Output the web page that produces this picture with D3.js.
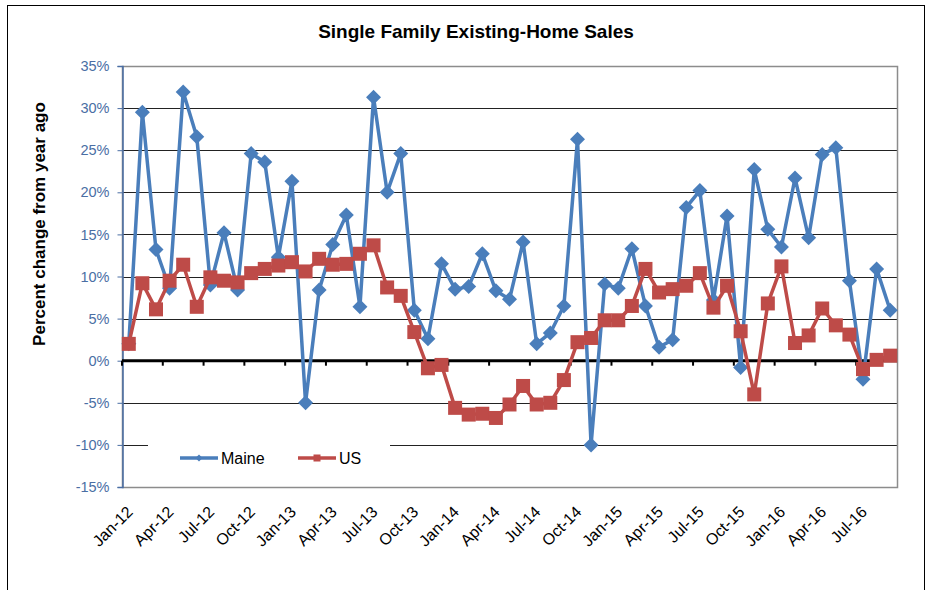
<!DOCTYPE html>
<html>
<head>
<meta charset="utf-8">
<script src="https://cdn.jsdelivr.net/npm/d3@7"></script>
<style>
  body { margin: 0; background: #fff; }
  svg { font-family: "Liberation Sans", Arial, sans-serif; }
</style>
</head>
<body>
<svg id="chart" width="931" height="590"></svg>
<script>
// monthly data, Jan-12 .. Sep-16
var months = ["Jan-12","Feb-12","Mar-12","Apr-12","May-12","Jun-12","Jul-12","Aug-12","Sep-12","Oct-12","Nov-12","Dec-12",
  "Jan-13","Feb-13","Mar-13","Apr-13","May-13","Jun-13","Jul-13","Aug-13","Sep-13","Oct-13","Nov-13","Dec-13",
  "Jan-14","Feb-14","Mar-14","Apr-14","May-14","Jun-14","Jul-14","Aug-14","Sep-14","Oct-14","Nov-14","Dec-14",
  "Jan-15","Feb-15","Mar-15","Apr-15","May-15","Jun-15","Jul-15","Aug-15","Sep-15","Oct-15","Nov-15","Dec-15",
  "Jan-16","Feb-16","Mar-16","Apr-16","May-16","Jun-16","Jul-16","Aug-16","Sep-16"];

var maine = [2.0, 29.5, 13.2, 8.6, 31.9, 26.6, 9.0, 15.2, 8.4, 24.6, 23.6, 12.3,
  21.3, -5.0, 8.4, 13.8, 17.3, 6.4, 31.3, 20.0, 24.6, 6.0, 2.6, 11.5,
  8.5, 8.8, 12.7, 8.3, 7.3, 14.1, 2.0, 3.3, 6.5, 26.3, -10.0, 9.1,
  8.6, 13.3, 6.5, 1.6, 2.5, 18.2, 20.2, 7.2, 17.2, -0.8, 22.7, 15.6,
  13.5, 21.7, 14.6, 24.5, 25.3, 9.5, -2.2, 10.9, 6.0];

var us = [2.0, 9.2, 6.1, 9.5, 11.4, 6.4, 9.9, 9.5, 9.3, 10.4, 10.9, 11.3,
  11.7, 10.6, 12.1, 11.4, 11.5, 12.7, 13.7, 8.7, 7.7, 3.4, -0.9, -0.5,
  -5.6, -6.4, -6.3, -6.8, -5.2, -3.0, -5.2, -5.0, -2.3, 2.2, 2.7, 4.8,
  4.8, 6.5, 10.9, 8.1, 8.5, 8.9, 10.4, 6.3, 8.9, 3.5, -4.0, 6.8,
  11.2, 2.1, 3.0, 6.2, 4.2, 3.1, -1.0, 0.1, 0.6];

var yTicks = [-15, -10, -5, 0, 5, 10, 15, 20, 25, 30, 35];

var blue = "#4a7ebb", red = "#be4b48";

var svg = d3.select("#chart");
var plotLeft = 122, plotRight = 897, plotTop = 66, plotBottom = 487;

// outer chart frame
svg.append("rect")
  .attr("x", 7.5).attr("y", 5.5)
  .attr("width", 917).attr("height", 600)
  .attr("fill", "none").attr("stroke", "#000").attr("stroke-width", 1);

var x = d3.scaleBand().domain(months).range([plotLeft, plotRight]);
var y = d3.scaleLinear().domain([-15, 35]).range([plotBottom, plotTop]);

// horizontal gridlines
svg.append("g").selectAll("line")
  .data(yTicks.filter(function(d) { return d != 0 && d != -15 && d != 35; }))
  .join("line")
  .attr("x1", plotLeft).attr("x2", plotRight)
  .attr("y1", function(d) { return Math.round(y(d)) + 0.5; })
  .attr("y2", function(d) { return Math.round(y(d)) + 0.5; })
  .attr("stroke", "#222").attr("stroke-width", 1);

// plot area border
svg.append("rect")
  .attr("x", plotLeft + 0.5).attr("y", plotTop + 0.5)
  .attr("width", plotRight - plotLeft).attr("height", plotBottom - plotTop)
  .attr("fill", "none").attr("stroke", "#8c8c8c").attr("stroke-width", 1.5);

// y axis
var yAxis = d3.axisLeft(y).tickValues(yTicks).tickSize(5).tickPadding(8)
  .tickFormat(function(d) { return d + "%"; });
var gy = svg.append("g").attr("transform", "translate(" + (plotLeft + 0.5) + ",0)").call(yAxis);
gy.select(".domain").attr("stroke", "#4a6ea4").attr("stroke-width", 1.5);
gy.selectAll(".tick line").attr("stroke", "#4a6ea4");
gy.selectAll(".tick text").attr("fill", "#4a6ea4").attr("font-size", "14.5px")
  .attr("font-family", "Liberation Sans, Arial, sans-serif");

// zero line with category tick marks
var boundaries = months.filter(function(d, i) { return i % 3 == 0; });
svg.append("g").selectAll("line")
  .data(boundaries)
  .join("line")
  .attr("x1", function(d) { return x(d); }).attr("x2", function(d) { return x(d); })
  .attr("y1", y(0)).attr("y2", y(0) + 5)
  .attr("stroke", "#000").attr("stroke-width", 2);
svg.append("line")
  .attr("x1", plotLeft).attr("x2", plotRight)
  .attr("y1", y(0)).attr("y2", y(0))
  .attr("stroke", "#000").attr("stroke-width", 3);

// x labels below plot, rotated
svg.append("g").selectAll("text")
  .data(boundaries)
  .join("text")
  .attr("transform", function(d) {
    return "translate(" + (x(d) + x.bandwidth() / 2 + 1) + "," + (plotBottom + 22) + ") rotate(-45)";
  })
  .attr("text-anchor", "end")
  .attr("dy", "0.35em")
  .attr("font-size", "16px")
  .attr("fill", "#000")
  .text(function(d) { return d; });

function cx(i) { return x(months[i]) + x.bandwidth() / 2; }

var line = d3.line()
  .x(function(d, i) { return cx(i); })
  .y(function(d) { return y(d); });

// Maine series
svg.append("path").datum(maine)
  .attr("d", line).attr("fill", "none")
  .attr("stroke", blue).attr("stroke-width", 3.5).attr("stroke-linejoin", "round");
svg.append("g").selectAll("path")
  .data(maine)
  .join("path")
  .attr("transform", function(d, i) { return "translate(" + cx(i) + "," + y(d) + ")"; })
  .attr("d", "M0,-7.5L7.5,0L0,7.5L-7.5,0Z")
  .attr("fill", blue);

// US series
svg.append("path").datum(us)
  .attr("d", line).attr("fill", "none")
  .attr("stroke", red).attr("stroke-width", 3.5).attr("stroke-linejoin", "round");
svg.append("g").selectAll("rect")
  .data(us)
  .join("rect")
  .attr("x", function(d, i) { return cx(i) - 7; })
  .attr("y", function(d) { return y(d) - 7; })
  .attr("width", 14).attr("height", 14)
  .attr("fill", red);

// legend, white box over the gridline
var legend = svg.append("g");
legend.append("rect")
  .attr("x", 148).attr("y", 436).attr("width", 242).attr("height", 40)
  .attr("fill", "#fff");
var legItems = [
  { name: "Maine", color: blue, x0: 180, shape: "diamond" },
  { name: "US", color: red, x0: 298, shape: "square" }
];
var ly = 458;
legItems.forEach(function(it) {
  legend.append("line")
    .attr("x1", it.x0).attr("x2", it.x0 + 38)
    .attr("y1", ly).attr("y2", ly)
    .attr("stroke", it.color).attr("stroke-width", 3.5);
  if (it.shape == "diamond") {
    legend.append("path")
      .attr("transform", "translate(" + (it.x0 + 19) + "," + ly + ")")
      .attr("d", "M0,-3.5L3.5,0L0,3.5L-3.5,0Z").attr("fill", it.color);
  } else {
    legend.append("rect")
      .attr("x", it.x0 + 15.5).attr("y", ly - 3.5)
      .attr("width", 7).attr("height", 7).attr("fill", it.color);
  }
  legend.append("text")
    .attr("x", it.x0 + 41).attr("y", ly)
    .attr("dy", "0.35em")
    .attr("font-size", "16px")
    .attr("fill", "#000")
    .text(it.name);
});

// title
svg.append("text")
  .attr("x", 476).attr("y", 38)
  .attr("text-anchor", "middle")
  .attr("font-size", "19px").attr("font-weight", "bold")
  .text("Single Family Existing-Home Sales");

// y axis title
svg.append("text")
  .attr("transform", "translate(45,224) rotate(-90)")
  .attr("text-anchor", "middle")
  .attr("font-size", "17px").attr("font-weight", "bold")
  .text("Percent change from year ago");
</script>
</body>
</html>
